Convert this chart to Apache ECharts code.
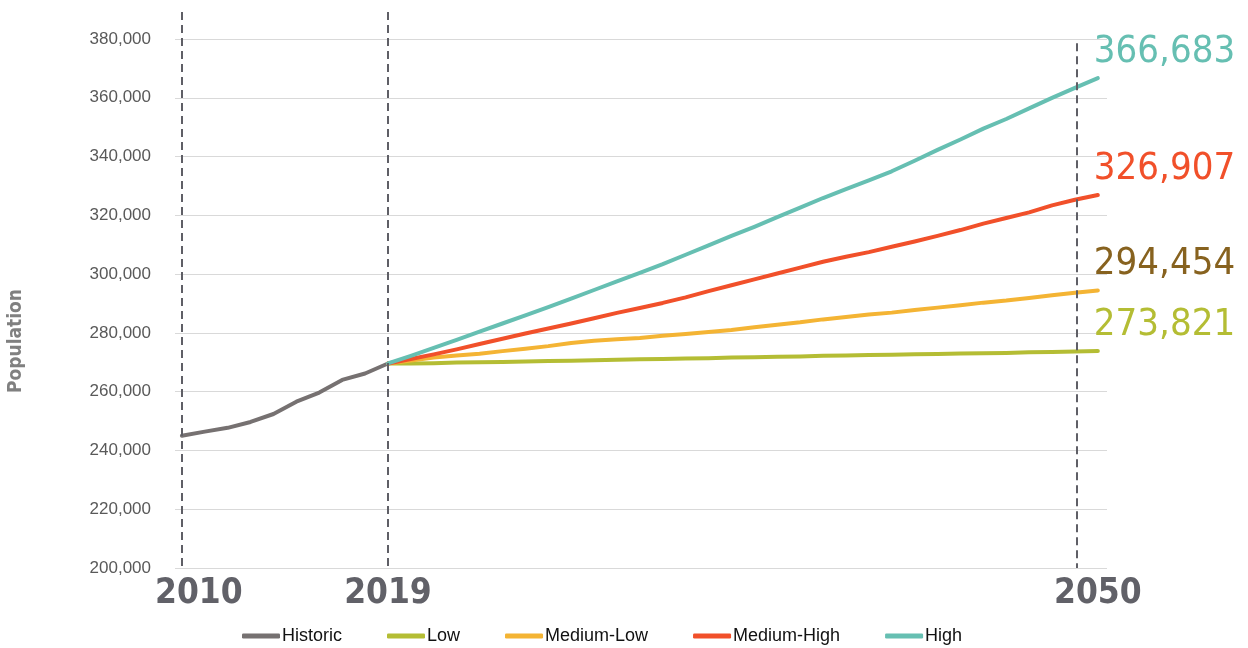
<!DOCTYPE html>
<html>
<head>
<meta charset="UTF-8">
<title>Population</title>
<script src="https://cdn.jsdelivr.net/npm/echarts@6/dist/echarts.min.js"></script>
<style>
    html, body { margin: 0; padding: 0; background: #fff; }
    #container { width: 1248px; height: 648px; }
</style>
</head>
<body>
<div id="container"></div>
<script>
    // 历史数据 2010-2019
    let historicYears = [2010, 2011, 2012, 2013, 2014, 2015, 2016, 2017, 2018, 2019];
    let historic = [245000, 246400, 247700, 249700, 252400, 256600, 259700, 264000, 266200, 269600];

    // 预测 2019-2050
    let projYears = [2019, 2020, 2021, 2022, 2023, 2024, 2025, 2026, 2027, 2028, 2029, 2030,
        2031, 2032, 2033, 2034, 2035, 2036, 2037, 2038, 2039, 2040,
        2041, 2042, 2043, 2044, 2045, 2046, 2047, 2048, 2049, 2050];
    let low = [269600, 269600, 269700, 269900, 270000, 270100, 270300, 270400, 270500, 270700, 270900, 271000,
        271100, 271300, 271400, 271600, 271700, 271900, 272000, 272200, 272300, 272500,
        272600, 272700, 272800, 273000, 273100, 273200, 273400, 273500, 273700, 273821];
    let mediumLow = [269600, 270600, 271600, 272300, 272900, 273800, 274600, 275500, 276600, 277300, 277800, 278300,
        279000, 279600, 280300, 281000, 281900, 282800, 283600, 284600, 285400, 286300,
        286900, 287800, 288600, 289400, 290300, 291000, 291900, 292800, 293700, 294454];
    let mediumHigh = [269600, 271100, 272700, 274400, 276200, 278000, 279800, 281500, 283200, 285000, 286800, 288500,
        290200, 292100, 294200, 296200, 298200, 300200, 302200, 304200, 305900, 307500,
        309300, 311100, 313000, 315000, 317200, 319100, 321000, 323400, 325300, 326907];
    let high = [269600, 272200, 274900, 277600, 280400, 283200, 286000, 288800, 291700, 294600, 297500, 300400,
        303400, 306600, 309800, 313000, 316100, 319400, 322600, 325900, 328900, 331900,
        335000, 338600, 342300, 345800, 349500, 352800, 356400, 360000, 363400, 366683];

    // 标注年份
    let markYears = [2010, 2019, 2050];

    let narrow = "'Liberation Sans Narrow', 'DejaVu Sans Condensed', 'Liberation Sans', sans-serif";

    function pairs(xs, ys) {
        return xs.map(function (x, i) { return [x, ys[i]]; });
    }

    function fmt(v) {
        return Number(v).toLocaleString('en-US');
    }

    function lineSeries(name, xs, ys, color, labelColor) {
        let s = {
            name: name,
            type: 'line',
            data: pairs(xs, ys),
            showSymbol: false,
            symbol: 'none',
            lineStyle: { width: 4, color: color, cap: 'round', join: 'round' },
            itemStyle: { color: color }
        };
        if (labelColor) {
            s.endLabel = {
                show: true,
                formatter: function (p) { return fmt(p.value[1]); },
                color: labelColor,
                fontFamily: narrow,
                fontSize: 38,
                offset: [-12, -26]
            };
        }
        return s;
    }

    let dom = document.getElementById("container");
    let myChart = echarts.init(dom);

    let series = [
        lineSeries('Historic', historicYears, historic, '#767171'),
        lineSeries('Low', projYears, low, '#b4bd34', '#b4bd34'),
        lineSeries('Medium-Low', projYears, mediumLow, '#f4b434', '#87621f'),
        lineSeries('Medium-High', projYears, mediumHigh, '#f1502a', '#f1502a'),
        lineSeries('High', projYears, high, '#66bfb2', '#66bfb2')
    ];

    // 虚线
    series[4].markLine = {
        silent: true,
        symbol: 'none',
        label: { show: false },
        lineStyle: { color: '#5f5f66', width: 2, type: [8, 5] },
        data: [
            [{ coord: [2010, 389200] }, { coord: [2010, 200000] }],
            [{ coord: [2019, 389200] }, { coord: [2019, 200000] }],
            [{ coord: [2049.08, 378600] }, { coord: [2049.08, 200000] }]
        ]
    };

    let option = {
        animation: false,
        grid: { left: 175, right: 141, top: 12, bottom: 80 },
        legend: {
            left: 237,
            bottom: -2,
            itemWidth: 38,
            itemHeight: 5,
            itemGap: 45,
            icon: 'roundRect',
            textStyle: { fontFamily: 'Liberation Sans, Arial, sans-serif', fontSize: 18, color: '#111', padding: [0, 0, 0, -3] },
            data: ['Historic', 'Low', 'Medium-Low', 'Medium-High', 'High']
        },
        xAxis: {
            type: 'value',
            min: 2009.7,
            max: 2050.4,
            axisLine: { show: false },
            axisTick: { show: false },
            splitLine: { show: false },
            axisLabel: {
                customValues: markYears,
                margin: 8,
                formatter: function (v) {
                    if (v === 2010) return '{a|' + v + '}';
                    return '{b|' + v + '}';
                },
                rich: {
                    a: { fontFamily: narrow, fontSize: 35, fontWeight: 'bold', color: '#616168', padding: [0, 0, 0, 34] },
                    b: { fontFamily: narrow, fontSize: 35, fontWeight: 'bold', color: '#616168' }
                }
            }
        },
        yAxis: {
            type: 'value',
            min: 200000,
            max: 389200,
            interval: 20000,
            axisLine: { show: false },
            axisTick: { show: false },
            splitLine: { show: true, showMaxLine: false, lineStyle: { color: '#d9d9d9', width: 1 } },
            axisLabel: {
                showMaxLabel: false,
                margin: 24,
                color: '#595959',
                fontFamily: 'Liberation Sans, Arial, sans-serif',
                fontSize: 17,
                formatter: function (v) { return fmt(v); }
            }
        },
        graphic: [{
            type: 'text',
            x: 16,
            y: 341,
            rotation: Math.PI / 2,
            style: {
                text: 'Population',
                fill: '#808080',
                fontFamily: narrow,
                fontWeight: 'bold',
                fontSize: 19,
                align: 'center',
                verticalAlign: 'middle'
            }
        }],
        series: series
    };

    myChart.setOption(option, true);
</script>
</body>
</html>
